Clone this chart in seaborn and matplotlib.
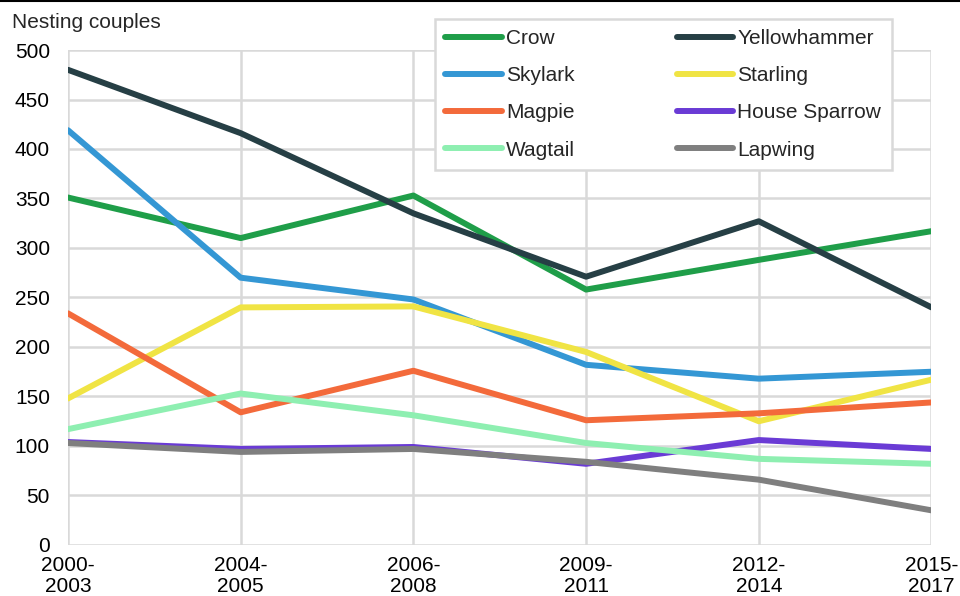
import numpy as np
import pandas as pd
import matplotlib.pyplot as plt
import seaborn as sns

# Data
periods = ["2000-\n2003", "2004-\n2005", "2006-\n2008", "2009-\n2011", "2012-\n2014", "2015-\n2017"]
crow = [351, 310, 353, 258, 288, 317]
yellowhammer = [480, 416, 335, 271, 327, 240]
skylark = [419, 270, 248, 182, 168, 175]
starling = [148, 240, 241, 195, 125, 167]
magpie = [234, 134, 176, 126, 133, 144]
house_sparrow = [104, 97, 99, 82, 106, 97]
wagtail = [117, 153, 131, 103, 87, 82]
lapwing = [103, 94, 97, 84, 66, 35]

series = {
    "Crow": crow,
    "Yellowhammer": yellowhammer,
    "Skylark": skylark,
    "Starling": starling,
    "Magpie": magpie,
    "House Sparrow": house_sparrow,
    "Wagtail": wagtail,
    "Lapwing": lapwing,
}
colors = {
    "Crow": "#1f9e49",
    "Yellowhammer": "#263f45",
    "Skylark": "#3497d4",
    "Starling": "#f0e444",
    "Magpie": "#f36a3b",
    "House Sparrow": "#6a3bd5",
    "Wagtail": "#8eefb1",
    "Lapwing": "#7f7f7f",
}

df = pd.DataFrame(
    [(p, name, v) for name, vals in series.items() for p, v in zip(periods, vals)],
    columns=["period", "bird", "couples"],
)

sns.set_style("white")
plt.rcParams["font.family"] = ["Liberation Sans", "DejaVu Sans"]
fs = 15

fig = plt.figure(figsize=(9.6, 5.96), dpi=100)
ax = fig.add_axes([0.0708, 0.0856, 0.8995, 0.8305])

sns.lineplot(data=df, x="period", y="couples", hue="bird", palette=colors,
             hue_order=list(series.keys()), sort=False, linewidth=4.3,
             ax=ax, legend=False)

# grid / axes look
grid_c = "#d9d9d9"
ax.set_ylim(0, 500)
ax.set_yticks(range(0, 501, 50))
ax.set_xlim(0, len(periods) - 1)
ax.grid(True, color=grid_c, linewidth=1.8)
ax.set_axisbelow(True)
for s in ax.spines.values():
    s.set_visible(False)
ax.tick_params(axis="both", length=0, labelsize=fs, colors="black")
ax.tick_params(axis="y", pad=13)
ax.tick_params(axis="x", pad=8)
ax.set_xlabel("")
ax.set_ylabel("")
for lab in ax.get_xticklabels():
    lab.set_linespacing(1.1)

fig.text(12 / 960, 1 - 22 / 596, "Nesting couples", fontsize=fs, va="center", ha="left")

# legend, column-wise order so rows read like the reference
order = ["Crow", "Skylark", "Magpie", "Wagtail", "Yellowhammer", "Starling", "House Sparrow", "Lapwing"]
handles = [plt.Line2D([], [], color=colors[n], linewidth=4.3, solid_capstyle="round") for n in order]
leg = ax.legend(handles, order, ncol=2, loc="upper left", bbox_to_anchor=(0.425, 1.063),
                fontsize=fs, frameon=True, fancybox=False, framealpha=1,
                edgecolor=grid_c, handlelength=2.7, handletextpad=0.2,
                columnspacing=4.9, labelspacing=0.87, borderpad=0.5, borderaxespad=0)
leg.get_frame().set_linewidth(1.8)

# thin black rule along the top edge
fig.add_artist(plt.Line2D([0, 1], [0.999, 0.999], transform=fig.transFigure, color="black", linewidth=1.5))

fig.savefig("out.png", dpi=100)
